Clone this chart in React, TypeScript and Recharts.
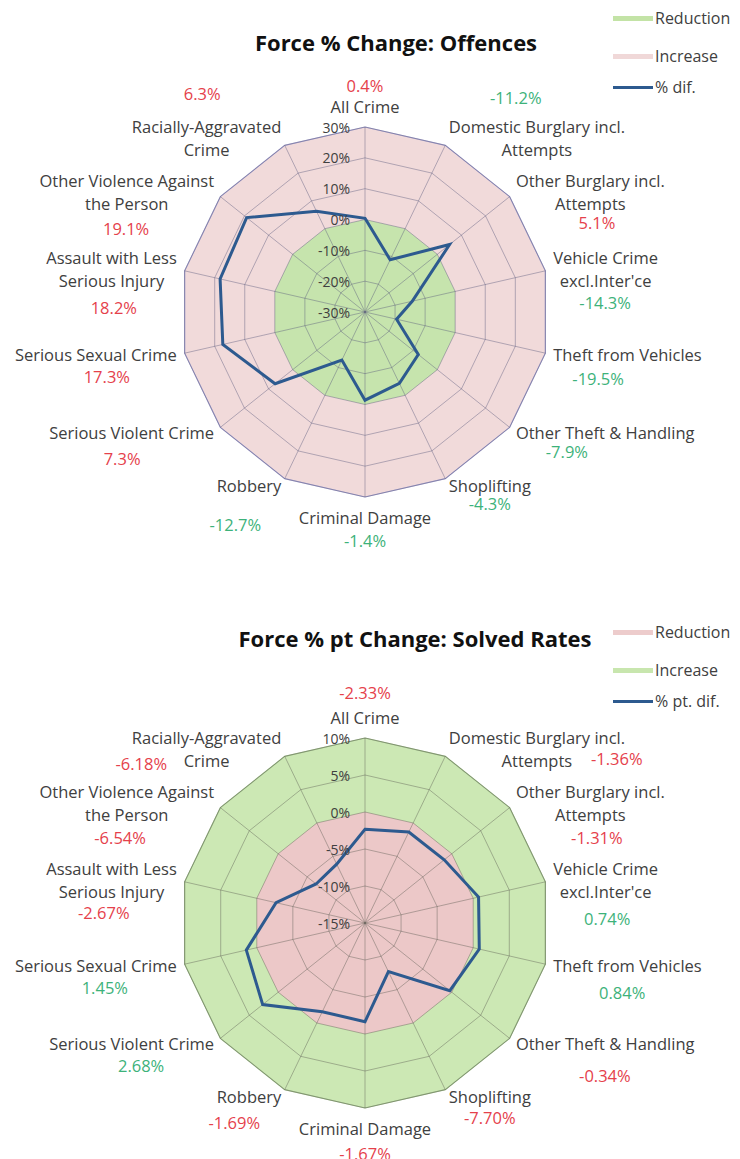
import React from 'react';
import { RadarChart, Radar, PolarGrid, PolarAngleAxis, PolarRadiusAxis, Legend } from 'recharts';

// ---------- DATA ----------
const categories = [
  'All Crime',
  'Domestic Burglary incl.\nAttempts',
  'Other Burglary incl.\nAttempts',
  "Vehicle Crime\nexcl.Inter'ce",
  'Theft from Vehicles',
  'Other Theft & Handling',
  'Shoplifting',
  'Criminal Damage',
  'Robbery',
  'Serious Violent Crime',
  'Serious Sexual Crime',
  'Assault with Less\nSerious Injury',
  'Other Violence Against\nthe Person',
  'Racially-Aggravated\nCrime',
];

const offencesDiff = [0.4, -11.2, 5.1, -14.3, -19.5, -7.9, -4.3, -1.4, -12.7, 7.3, 17.3, 18.2, 19.1, 6.3];
const offencesIncreaseBand = [30, 30, 30, 30, 30, 30, 30, 30, 30, 30, 30, 30, 30, 30];
const offencesReductionBand = [0, 0, 0, 0, 0, 0, 0, 0, 0, 0, 0, 0, 0, 0];
const offencesTicks = [-30, -20, -10, 0, 10, 20, 30];

const solvedDiff = [-2.33, -1.36, -1.31, 0.74, 0.84, -0.34, -7.7, -1.67, -1.69, 2.68, 1.45, -2.67, -6.54, -6.18];
const solvedIncreaseBand = [10, 10, 10, 10, 10, 10, 10, 10, 10, 10, 10, 10, 10, 10];
const solvedReductionBand = [0, 0, 0, 0, 0, 0, 0, 0, 0, 0, 0, 0, 0, 0];
const solvedTicks = [-15, -10, -5, 0, 5, 10];

// ---------- STYLE / LAYOUT ----------
const FONT = '"Open Sans", "DejaVu Sans", sans-serif';
const LABEL_SIZE = 16.5;
const VALUE_SIZE = 16.5;
const RED = '#e5414b';
const GREEN_TXT = '#3db27a';
const LINE_BLUE = '#2d5a8f';
const TEXT = '#404040';

// value-label nudges relative to each angle-axis tick point
const offencesValueNudge: [number, number][] = [
  [0, -34], [67, -41], [81, 31], [52, 33], [45, 24], [51, 19], [41, 18],
  [0, 35], [-46, 39], [-92, 26], [-70, 22], [-63, 38], [-88, 37], [-79, -45],
];
const solvedValueNudge: [number, number][] = [
  [0, -38], [168, 9], [81, 35], [54, 38], [69, 27], [89, 32], [41, 21],
  [0, 37], [-47, 26], [-73, 22], [-72, 22], [-73, 32], [-94, 35], [-140, 14],
];

let ctx: CanvasRenderingContext2D | null = null;
function textWidth(s: string, size: number) {
  if (typeof document === 'undefined') return s.length * size * 0.52;
  if (!ctx) ctx = document.createElement('canvas').getContext('2d');
  if (!ctx) return s.length * size * 0.52;
  ctx.font = `${size}px "Open Sans"`;
  return ctx.measureText(s).width;
}

function makeAngleTick(values: number[], decimals: number, positiveIsBad: boolean, nudges: [number, number][]) {
  return (props: any) => {
    const { x, y, payload, textAnchor } = props;
    const i: number = props.index ?? payload.index;
    const lines = String(payload.value).split('\n');
    const angle = payload.coordinate as number;
    const sin = Math.sin((angle * Math.PI) / 180);
    const LH = 23;
    let ys: number[];
    if (textAnchor === 'middle') {
      if (sin > 0) ys = lines.map((_, k) => y - 13 - (lines.length - 1 - k) * LH);
      else ys = lines.map((_, k) => y + 12 + k * LH);
    } else {
      ys = lines.map((_, k) => y + (k - (lines.length - 1) / 2) * LH);
    }
    const blockW = Math.max(...lines.map((l) => textWidth(l, LABEL_SIZE)));
    const bx = textAnchor === 'start' ? x + blockW / 2 : textAnchor === 'end' ? x - blockW / 2 : x;
    const v = values[i];
    const bad = positiveIsBad ? v > 0 : v < 0;
    const [dx, dy] = nudges[i];
    return (
      <g>
        {lines.map((l, k) => (
          <text key={k} x={bx} y={ys[k]} textAnchor="middle" dominantBaseline="central"
            fontFamily={FONT} fontSize={LABEL_SIZE} fill={TEXT}>{l}</text>
        ))}
        <text x={x + dx} y={y + dy} textAnchor="middle" dominantBaseline="central"
          fontFamily={FONT} fontSize={VALUE_SIZE} fill={bad ? RED : GREEN_TXT}>
          {v.toFixed(decimals)}%
        </text>
      </g>
    );
  };
}

const RadiusTick = (props: any) => {
  const { x, y, payload } = props;
  return (
    <text x={x - 15} y={y} textAnchor="end" dominantBaseline="central" fontFamily={FONT} fontSize={14} fill={TEXT}>
      {payload.value}%
    </text>
  );
};

type LegendItem = { label: string; color: string; kind: 'band' | 'line' };

function makeLegend(items: LegendItem[], rows: number[]) {
  return () => (
    <div style={{ position: 'relative', width: 127, height: 100, fontFamily: FONT, fontSize: 16, color: TEXT }}>
      {items.map((it, k) => (
        <div key={k} style={{ position: 'absolute', left: 0, top: rows[k] - 11, height: 22, display: 'flex', alignItems: 'center', whiteSpace: 'nowrap' }}>
          <span style={{ display: 'inline-block', width: 40, height: it.kind === 'line' ? 3 : 5, background: it.color }} />
          <span style={{ marginLeft: 2 }}>{it.label}</span>
        </div>
      ))}
    </div>
  );
}

type PanelProps = {
  top: number;
  height: number;
  title: string;
  titleX: number;
  titleY: number;
  diff: number[];
  outerBand: number[];
  innerBand: number[];
  ticks: number[];
  decimals: number;
  positiveIsBad: boolean;
  nudges: [number, number][];
  outerFill: string;
  innerFill: string;
  outerStroke: string;
  gridStroke: string;
  outerName: string;
  innerName: string;
  lineName: string;
  legendItems: LegendItem[];
  legendRows: number[];
};

function Panel(p: PanelProps) {
  const data = categories.map((c, i) => ({
    category: c,
    outer: p.outerBand[i],
    inner: p.innerBand[i],
    diff: p.diff[i],
  }));
  const anyZ: any = {};
  return (
    <div style={{ position: 'absolute', left: 0, top: p.top, width: 740, height: p.height }}>
      <RadarChart width={740} height={p.height} data={data} cx={365} cy={312} outerRadius={185}
        startAngle={90} endAngle={-270} margin={{ top: 0, right: 0, bottom: 0, left: 0 }}>
        <Radar name={p.outerName} dataKey="outer" stroke={p.outerStroke} strokeWidth={1.2} fill={p.outerFill} fillOpacity={1} dot={false} isAnimationActive={false} {...anyZ} zIndex={100} />
        <Radar name={p.innerName} dataKey="inner" stroke="none" fill={p.innerFill} fillOpacity={1} dot={false} isAnimationActive={false} {...anyZ} zIndex={110} />
        <PolarGrid gridType="polygon" stroke={p.gridStroke} strokeOpacity={0.42} {...anyZ} zIndex={200} />
        <PolarAngleAxis dataKey="category" tick={makeAngleTick(p.diff, p.decimals, p.positiveIsBad, p.nudges)} tickLine={false} axisLine={false} />
        <PolarRadiusAxis angle={90} domain={[p.ticks[0], p.ticks[p.ticks.length - 1]]} ticks={p.ticks as any} tickCount={p.ticks.length}
          axisLine={false} tickLine={false} tick={<RadiusTick />} />
        <Radar name={p.lineName} dataKey="diff" stroke={LINE_BLUE} strokeWidth={3} fill="none" fillOpacity={0} dot={false} isAnimationActive={false} {...anyZ} zIndex={400} />
        <Legend layout="vertical" align="right" verticalAlign="top" content={makeLegend(p.legendItems, p.legendRows)}
          wrapperStyle={{ left: 613, top: 0, width: 127 }} />
      </RadarChart>
      <div style={{ position: 'absolute', left: p.titleX - 250, top: p.titleY - 16, width: 500, textAlign: 'center', fontFamily: FONT, fontWeight: 700, fontSize: 22, lineHeight: '32px', color: '#111' }}>
        {p.title}
      </div>
    </div>
  );
}

const PINK1 = '#f1dada';
const GREEN1 = '#c6e4ad';
const PINK2 = '#ecc8c8';
const GREEN2 = '#cce8b4';

export default function App() {
  return (
    <div style={{ position: 'absolute', left: 0, top: 0, width: 740, height: 1159, background: '#fff', overflow: 'hidden' }}>
      <Panel
        top={0} height={611}
        title="Force % Change: Offences" titleX={396} titleY={42}
        diff={offencesDiff} outerBand={offencesIncreaseBand} innerBand={offencesReductionBand}
        ticks={offencesTicks} decimals={1} positiveIsBad={true} nudges={offencesValueNudge}
        outerFill={PINK1} innerFill={GREEN1} outerStroke="#a7a3cf" gridStroke="#55557a"
        outerName="Increase" innerName="Reduction" lineName="% dif."
        legendItems={[
          { label: 'Reduction', color: '#c3e3a6', kind: 'band' },
          { label: 'Increase', color: '#f0d8d8', kind: 'band' },
          { label: '% dif.', color: LINE_BLUE, kind: 'line' },
        ]}
        legendRows={[18, 56, 87]}
      />
      <Panel
        top={611} height={548}
        title="Force % pt Change: Solved Rates" titleX={415} titleY={27}
        diff={solvedDiff} outerBand={solvedIncreaseBand} innerBand={solvedReductionBand}
        ticks={solvedTicks} decimals={2} positiveIsBad={false} nudges={solvedValueNudge}
        outerFill={GREEN2} innerFill={PINK2} outerStroke="#9dbd88" gridStroke="#5a5a50"
        outerName="Increase" innerName="Reduction" lineName="% pt. dif."
        legendItems={[
          { label: 'Reduction', color: '#edcccc', kind: 'band' },
          { label: 'Increase', color: '#c8e6ae', kind: 'band' },
          { label: '% pt. dif.', color: LINE_BLUE, kind: 'line' },
        ]}
        legendRows={[21, 59, 90]}
      />
    </div>
  );
}
